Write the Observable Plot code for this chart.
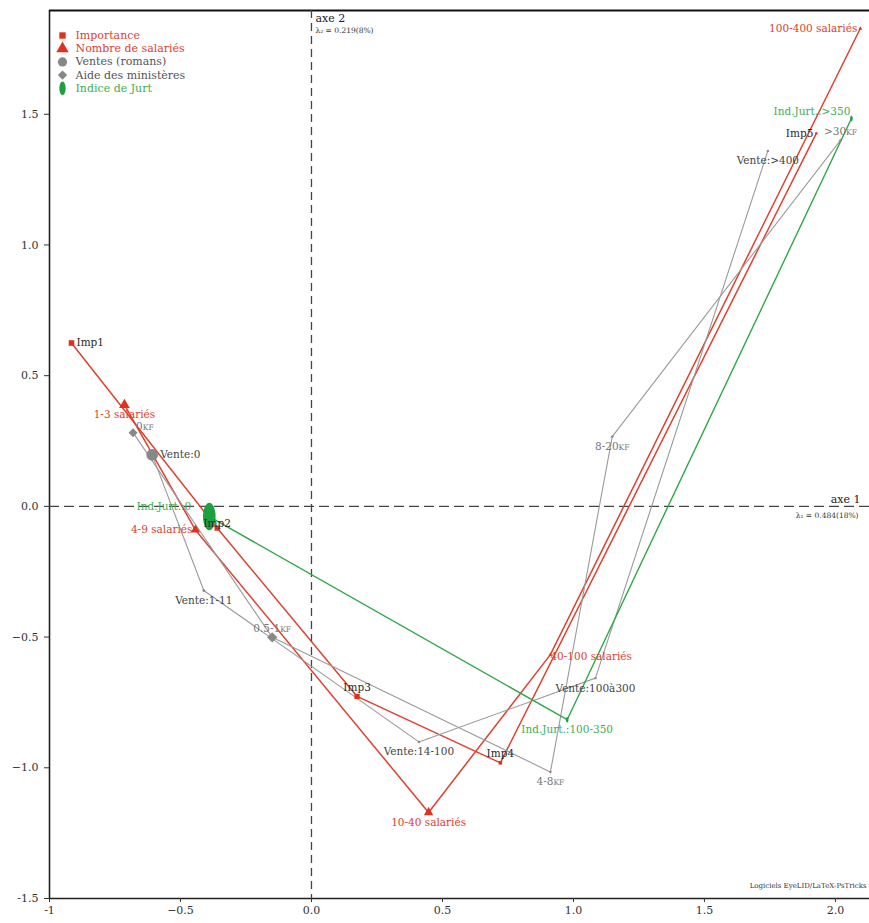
<!DOCTYPE html>
<html>
<head>
<meta charset="utf-8">
<script src="https://cdn.jsdelivr.net/npm/d3@7"></script>
<script src="https://cdn.jsdelivr.net/npm/@observablehq/plot@0.6"></script>
<style>
  body { margin: 0; background: #fff; }
</style>
</head>
<body>
<div id="chart"></div>
<script>
// Modalities projected on the first two factorial axes (axe 1, axe 2),
// with the relative mass of each modality.
const importanceLabels = ["Imp1", "Imp2", "Imp3", "Imp4", "Imp5"];
const importanceAxe1 = [-0.916, -0.360, 0.174, 0.721, 1.927];
const importanceAxe2 = [0.625, -0.083, -0.727, -0.981, 1.427];
const importanceMasse = [10, 9, 9, 4, 1.5];

const salariesLabels = ["1-3 salariés", "4-9 salariés", "10-40 salariés", "40-100 salariés", "100-400 salariés"];
const salariesAxe1 = [-0.714, -0.443, 0.447, 0.912, 2.095];
const salariesAxe2 = [0.388, -0.090, -1.171, -0.567, 1.828];
const salariesMasse = [16, 12, 12, 2, 2];

const ventesLabels = ["Vente:0", "Vente:1-11", "Vente:14-100", "Vente:100à300", "Vente:>400"];
const ventesAxe1 = [-0.608, -0.411, 0.410, 1.084, 1.742];
const ventesAxe2 = [0.197, -0.322, -0.901, -0.657, 1.360];
const ventesMasse = [34, 2, 1.5, 1.5, 1.5];

const aideLabels = ["0KF", "0.5-1KF", "4-8KF", "8-20KF", ">30KF"];
const aideAxe1 = [-0.681, -0.150, 0.912, 1.148, 2.019];
const aideAxe2 = [0.282, -0.501, -1.016, 0.267, 1.400];
const aideMasse = [12, 16, 1.5, 1.5, 1.5];

const jurtLabels = ["Ind.Jurt.:0", "Ind.Jurt.:100-350", "Ind.Jurt.:>350"];
const jurtAxe1 = [-0.390, 0.976, 2.061];
const jurtAxe2 = [-0.039, -0.816, 1.484];
const jurtMasse = [36, 1.5, 1.5];

const seriesNames = ["Importance", "Nombre de salariés", "Ventes (romans)", "Aide des ministères", "Indice de Jurt"];

const inertiaAxe1 = ["axe 1", "λ₁ = 0.484(18%)"];
const inertiaAxe2 = ["axe 2", "λ₂ = 0.219(8%)"];
const credit = "Logiciels EyeLID/LaTeX-PsTricks";

const xTicks = [-1, -0.5, 0, 0.5, 1, 1.5, 2];
const xTickLabels = ["-1", "−0.5", "0.0", "0.5", "1.0", "1.5", "2.0"];
const yTicks = [-1.5, -1, -0.5, 0, 0.5, 1, 1.5];
const yTickLabels = ["-1.5", "−1.0", "−0.5", "0.0", "0.5", "1.0", "1.5"];

// ---- symbols -------------------------------------------------------------
const ellipseSymbol = {
  draw(ctx, size) {
    const r = Math.sqrt(size / Math.PI), rx = r * 1.05, ry = r * 2.3, k = 0.5523;
    ctx.moveTo(0, -ry);
    ctx.bezierCurveTo(k * rx, -ry, rx, -k * ry, rx, 0);
    ctx.bezierCurveTo(rx, k * ry, k * rx, ry, 0, ry);
    ctx.bezierCurveTo(-k * rx, ry, -rx, k * ry, -rx, 0);
    ctx.bezierCurveTo(-rx, -k * ry, -k * rx, -ry, 0, -ry);
    ctx.closePath();
  }
};
const diamondSymbol = {
  draw(ctx, size) {
    const d = Math.sqrt(size / Math.PI) * 1.3;
    ctx.moveTo(0, -d); ctx.lineTo(d, 0); ctx.lineTo(0, d); ctx.lineTo(-d, 0); ctx.closePath();
  }
};

const red = "#e0402e", gray = "#9a9a9a", green = "#2ea846";

const series = [
  {name: seriesNames[0], labels: importanceLabels, a1: importanceAxe1, a2: importanceAxe2, m: importanceMasse,
   line: red, lineWidth: 1.5, fill: "#e0301e", text: "#2a2a2a", symbol: "square", legendText: red},
  {name: seriesNames[1], labels: salariesLabels, a1: salariesAxe1, a2: salariesAxe2, m: salariesMasse,
   line: red, lineWidth: 1.5, fill: "#e0301e", text: red, symbol: "triangle", legendText: red},
  {name: seriesNames[2], labels: ventesLabels, a1: ventesAxe1, a2: ventesAxe2, m: ventesMasse,
   line: gray, lineWidth: 1.1, fill: "#888", text: "#444", symbol: "circle", legendText: "#555"},
  {name: seriesNames[3], labels: aideLabels, a1: aideAxe1, a2: aideAxe2, m: aideMasse,
   line: gray, lineWidth: 1.1, fill: "#888", text: "#777", symbol: diamondSymbol, legendText: "#555"},
  {name: seriesNames[4], labels: jurtLabels, a1: jurtAxe1, a2: jurtAxe2, m: jurtMasse,
   line: green, lineWidth: 1.4, fill: "#1fa040", text: "#3cb050", symbol: ellipseSymbol, legendText: "#3cb050"}
];

series.forEach(s => {
  s.points = s.labels.map((label, i) => ({label, x: s.a1[i], y: s.a2[i], masse: s.m[i], color: s.text}));
});

// Where each label sits relative to its point
const placements = {
  right:      {textAnchor: "start",  dx: 5,   dy: 0},
  rightFar:   {textAnchor: "start",  dx: 8,   dy: 0},
  rightOn:    {textAnchor: "start",  dx: 0,   dy: 2},
  left:       {textAnchor: "end",    dx: -3,  dy: 0},
  below:      {textAnchor: "middle", dx: 0,   dy: 10},
  above:      {textAnchor: "middle", dx: 0,   dy: -9},
  center:     {textAnchor: "middle", dx: 0,   dy: -4},
  aboveRight: {textAnchor: "start",  dx: 3,   dy: -6},
  aboveLeft:  {textAnchor: "end",    dx: -1,  dy: -7},
  ellipseLeft:{textAnchor: "end",    dx: -18, dy: -10}
};
const labelPlacement = {
  "Imp1": "right", "Imp2": "center", "Imp3": "above", "Imp4": "above", "Imp5": "left",
  "1-3 salariés": "below", "4-9 salariés": "left", "10-40 salariés": "below",
  "40-100 salariés": "rightOn", "100-400 salariés": "left",
  "Vente:0": "rightFar", "Vente:1-11": "below", "Vente:14-100": "below", "Vente:100à300": "below", "Vente:>400": "below",
  "0KF": "aboveRight", "0.5-1KF": "above", "4-8KF": "below", "8-20KF": "below", ">30KF": "above",
  "Ind.Jurt.:0": "ellipseLeft", "Ind.Jurt.:100-350": "below", "Ind.Jurt.:>350": "aboveLeft"
};

const allPoints = series.flatMap(s => s.points);

const xDomain = [-1, 2.13];
const yDomain = [-1.5, 1.897];

const marks = [];

// frame (left, bottom, top) and the two factorial axes
marks.push(Plot.ruleX([xDomain[0]], {stroke: "#222", strokeWidth: 1.6}));
marks.push(Plot.ruleY([yDomain[0]], {stroke: "#222", strokeWidth: 1.6}));
marks.push(Plot.ruleY([yDomain[1]], {stroke: "#111", strokeWidth: 2.2}));
marks.push(Plot.ruleX([0], {stroke: "#444", strokeWidth: 1.3, strokeDasharray: "8,5"}));
marks.push(Plot.ruleY([0], {stroke: "#444", strokeWidth: 1.3, strokeDasharray: "10,5"}));

marks.push(Plot.axisX({ticks: xTicks, tickFormat: d => xTickLabels[xTicks.indexOf(d)], tickSize: 4, tickPadding: 4, label: null, fontSize: 11, color: "#333"}));
marks.push(Plot.axisY({ticks: yTicks, tickFormat: d => yTickLabels[yTicks.indexOf(d)], tickSize: 5, tickPadding: 6, label: null, fontSize: 11, color: "#333"}));

// trajectories joining ordered modalities
for (const s of series) {
  marks.push(Plot.line(s.points, {x: "x", y: "y", stroke: s.line, strokeWidth: s.lineWidth}));
}
// modality markers sized by mass
for (const s of series) {
  marks.push(Plot.dot(s.points, {x: "x", y: "y", r: "masse", symbol: s.symbol, fill: s.fill, stroke: "none"}));
}
// labels
for (const [key, p] of Object.entries(placements)) {
  const pts = allPoints.filter(d => labelPlacement[d.label] === key);
  if (!pts.length) continue;
  marks.push(Plot.text(pts, {x: "x", y: "y", text: "label", fill: "color", textAnchor: p.textAnchor, dx: p.dx, dy: p.dy, fontSize: 10.5}));
}

// legend in the upper-left corner
const legendSizes = [3.6, 4.6, 4.6, 3.6, 3];
series.forEach((s, i) => {
  marks.push(Plot.dot([s.name], {frameAnchor: "top-left", dx: 13, dy: 25 + 13.2 * i, symbol: s.symbol, fill: s.fill, stroke: "none", r: legendSizes[i]}));
  marks.push(Plot.text([s.name], {frameAnchor: "top-left", lineAnchor: "middle", dx: 26, dy: 25 + 13.2 * i, text: d => d, textAnchor: "start", fill: s.legendText, fontSize: 11}));
});

// axis names and inertia
marks.push(Plot.text([inertiaAxe2[0]], {x: [0], frameAnchor: "top", lineAnchor: "middle", text: d => d, textAnchor: "start", dx: 4, dy: 8, fontSize: 11, fill: "#222"}));
marks.push(Plot.text([inertiaAxe2[1]], {x: [0], frameAnchor: "top", lineAnchor: "middle", text: d => d, textAnchor: "start", dx: 4, dy: 20, fontSize: 7.5, fill: "#333"}));
marks.push(Plot.text([inertiaAxe1[0]], {y: [0], frameAnchor: "right", lineAnchor: "middle", text: d => d, textAnchor: "end", dx: -9, dy: -7, fontSize: 11, fill: "#222"}));
marks.push(Plot.text([inertiaAxe1[1]], {y: [0], frameAnchor: "right", lineAnchor: "middle", text: d => d, textAnchor: "end", dx: -11, dy: 9, fontSize: 7.5, fill: "#333"}));
marks.push(Plot.text([credit], {frameAnchor: "bottom-right", lineAnchor: "middle", text: d => d, textAnchor: "end", dx: -3, dy: -13, fontSize: 7, fill: "#333"}));

const chart = Plot.plot({
  width: 869,
  height: 923,
  marginLeft: 49,
  marginRight: 0,
  marginTop: 10,
  marginBottom: 25,
  x: {domain: xDomain},
  y: {domain: yDomain},
  r: {type: "sqrt", domain: [0, 36], range: [0, 6]},
  style: {fontFamily: "'DejaVu Serif', serif", fontSize: "10.5px", background: "#fff", color: "#333"},
  marks
});

// "KF" units in small capitals
chart.querySelectorAll("text").forEach(t => {
  const s = t.textContent;
  if (t.children.length === 0 && /KF$/.test(s)) {
    t.textContent = "";
    const ns = "http://www.w3.org/2000/svg";
    const a = document.createElementNS(ns, "tspan");
    a.textContent = s.slice(0, -2);
    const b = document.createElementNS(ns, "tspan");
    b.textContent = "KF";
    b.setAttribute("font-size", "0.72em");
    t.appendChild(a); t.appendChild(b);
  }
});

document.getElementById("chart").appendChild(chart);
</script>
</body>
</html>
